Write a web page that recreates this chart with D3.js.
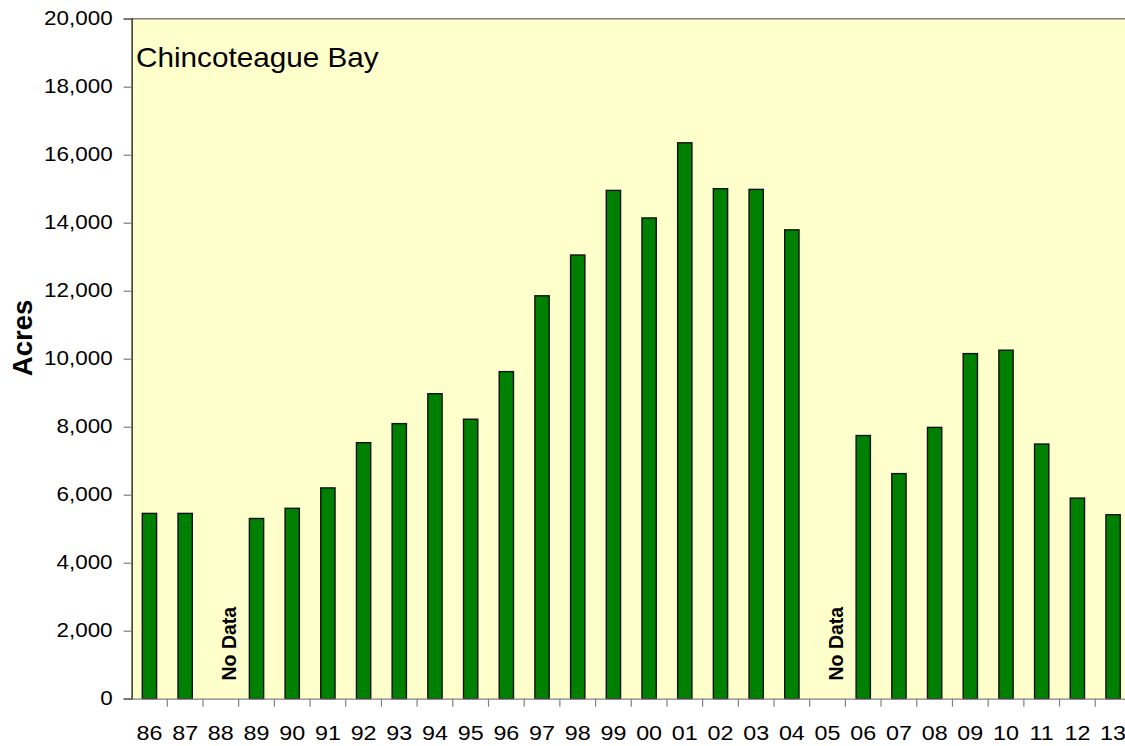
<!DOCTYPE html>
<html>
<head>
<meta charset="utf-8">
<script src="https://cdn.jsdelivr.net/npm/d3@7/dist/d3.min.js"></script>
<style>
  html, body { margin: 0; padding: 0; background: #ffffff; overflow: hidden; }
  svg { display: block; font-family: "Liberation Sans", Arial, sans-serif; }
</style>
</head>
<body>
<svg id="chart" width="1125" height="746"></svg>
<script>
// Survey years (two-digit labels)
const years = ["86","87","88","89","90","91","92","93","94","95","96","97","98","99",
               "00","01","02","03","04","05","06","07","08","09","10","11","12","13"];
// Acres per year; null where no survey was flown
const acres = [5450, 5450, null, 5300, 5600, 6200, 7530, 8090, 8970, 8220, 9620, 11850, 13050, 14950,
               14140, 16350, 15000, 14980, 13790, null, 7740, 6620, 7980, 10150, 10250, 7490, 5900, 5410];
const yTicks = [0, 2000, 4000, 6000, 8000, 10000, 12000, 14000, 16000, 18000, 20000];
const title = "Chincoteague Bay";
const yTitle = "Acres";
const noDataLabel = "No Data";

const FONT = "Liberation Sans, Arial, sans-serif";
const svg = d3.select("#chart");
const margin = { left: 131.6, top: 18.7, bottom: 698.7 };
const plotRight = margin.left + 35.69 * years.length;

const x = d3.scaleBand().domain(years).range([margin.left, plotRight]).padding(0);
const y = d3.scaleLinear().domain([0, 20000]).range([margin.bottom, margin.top]);

// plot background
svg.append("rect")
  .attr("x", margin.left).attr("y", margin.top)
  .attr("width", plotRight - margin.left).attr("height", margin.bottom - margin.top)
  .attr("fill", "#FFFFCC");

// top border
svg.append("line")
  .attr("x1", margin.left).attr("x2", plotRight)
  .attr("y1", margin.top).attr("y2", margin.top)
  .attr("stroke", "#808080").attr("stroke-width", 1.5);

// bars
const barW = x.bandwidth() * 0.4;
const data = years.map((yr, i) => ({ yr, v: acres[i] }));
svg.append("g").selectAll("rect")
  .data(data.filter(d => d.v !== null))
  .join("rect")
  .attr("x", d => x(d.yr) + (x.bandwidth() - barW) / 2)
  .attr("y", d => y(d.v))
  .attr("width", barW)
  .attr("height", d => y(0) - y(d.v))
  .attr("fill", "#008000")
  .attr("stroke", "#111")
  .attr("stroke-width", 1.4);

// "No Data" markers
svg.append("g").selectAll("text")
  .data(data.filter(d => d.v === null))
  .join("text")
  .attr("transform", d => `translate(${x(d.yr) + x.bandwidth() / 2 + 15},${y(1620)}) rotate(-90)`)
  .attr("text-anchor", "middle")
  .attr("font-family", FONT)
  .attr("font-size", 19.5)
  .attr("font-weight", "bold")
  .attr("fill", "#000")
  .text(noDataLabel);

// y axis
const yAxis = d3.axisLeft(y).tickValues(yTicks).tickFormat(d3.format(",")).tickSize(8).tickPadding(3);
const gy = svg.append("g").attr("transform", `translate(${margin.left},0)`).call(yAxis);
gy.select(".domain").attr("stroke", "#000").attr("stroke-width", 1.2);
gy.selectAll(".tick line").attr("stroke", "#808080").attr("stroke-width", 1.2);
gy.selectAll(".tick text")
  .attr("x", 0)
  .attr("transform", "translate(-19,0) scale(1.15,1)")
  .attr("font-size", 19.5).attr("fill", "#000")
  .attr("font-family", FONT);

// x axis
const xAxis = d3.axisBottom(x).tickSize(0).tickPadding(0);
const gx = svg.append("g").attr("transform", `translate(0,${margin.bottom})`).call(xAxis);
gx.select(".domain").attr("stroke", "#808080").attr("stroke-width", 1.2);
gx.selectAll(".tick text")
  .attr("y", 0).attr("dy", null)
  .attr("transform", "translate(0,41) scale(1.11,1)")
  .attr("font-size", 21).attr("fill", "#000")
  .attr("font-family", FONT);

// tick marks between categories
svg.append("g").selectAll("line")
  .data(years.slice(1))
  .join("line")
  .attr("x1", d => x(d)).attr("x2", d => x(d))
  .attr("y1", margin.bottom).attr("y2", margin.bottom + 8)
  .attr("stroke", "#808080").attr("stroke-width", 1.2);

// y axis title
svg.append("text")
  .attr("transform", `translate(31.5,338) rotate(-90)`)
  .attr("text-anchor", "middle")
  .attr("font-family", FONT)
  .attr("font-size", 27.5)
  .attr("font-weight", "bold")
  .text(yTitle);

// chart label inside plot
svg.append("text")
  .attr("transform", "translate(136,66.5) scale(1.1,1)")
  .attr("font-family", FONT)
  .attr("font-size", 27)
  .attr("fill", "#000")
  .text(title);
</script>
</body>
</html>
